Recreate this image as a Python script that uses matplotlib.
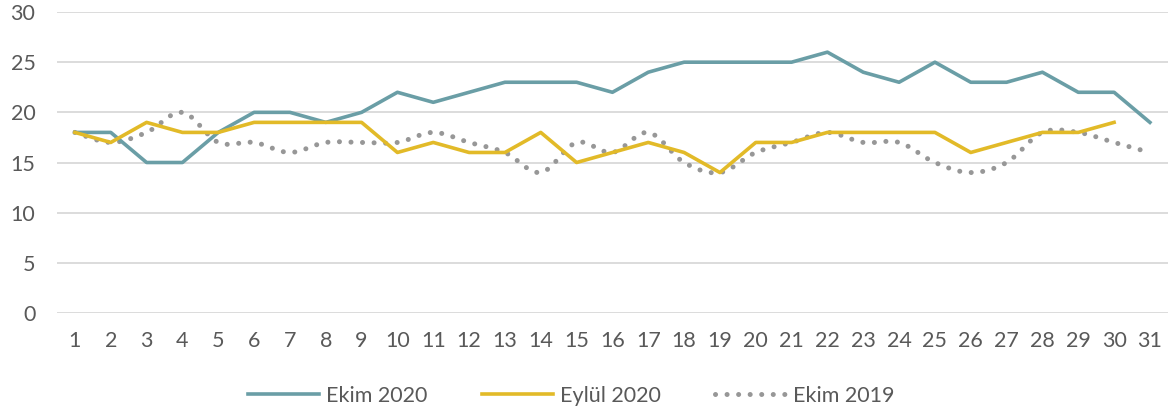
import numpy as np
import matplotlib
matplotlib.use('Agg')
import matplotlib.pyplot as plt

plt.rcParams['font.family'] = ['Lato', 'DejaVu Sans']

days = list(range(1, 32))
ekim_2020 = [18, 18, 15, 15, 18, 20, 20, 19, 20, 22, 21, 22, 23, 23, 23, 22,
             24, 25, 25, 25, 25, 26, 24, 23, 25, 23, 23, 24, 22, 22, 19]
eylul_2020 = [18, 17, 19, 18, 18, 19, 19, 19, 19, 16, 17, 16, 16, 18, 15, 16,
              17, 16, 14, 17, 17, 18, 18, 18, 18, 16, 17, 18, 18, 19]
ekim_2019 = [18, 17, 18, 20, 17, 17, 16, 17, 17, 17, 18, 17, 16, 14, 17, 16,
             18, 15, 14, 16, 17, 18, 17, 17, 15, 14, 15, 18, 18, 17, 16]
y_ticks = [0, 5, 10, 15, 20, 25, 30]


def smooth(x, y, n=12):
    """Catmull-Rom, like Excel's smoothed line"""
    x = np.asarray(x, float)
    y = np.asarray(y, float)
    px = np.concatenate([[x[0]], x, [x[-1]]])
    py = np.concatenate([[y[0]], y, [y[-1]]])
    xs, ys = [], []
    for i in range(1, len(px) - 2):
        t = np.linspace(0, 1, n, endpoint=False)
        for arr, out in ((px, xs), (py, ys)):
            p0, p1, p2, p3 = arr[i - 1], arr[i], arr[i + 1], arr[i + 2]
            out.extend(0.5 * (2 * p1 + (-p0 + p2) * t + (2 * p0 - 5 * p1 + 4 * p2 - p3) * t ** 2
                              + (-p0 + 3 * p1 - 3 * p2 + p3) * t ** 3))
    xs.append(x[-1])
    ys.append(y[-1])
    return xs, ys


fig = plt.figure(figsize=(11.73, 4.16), dpi=100)
ax = fig.add_axes([0.0486, 0.2476, 0.947, 0.7235])

c_teal = '#6A9EA6'
c_yellow = '#E2BA28'
c_grey = '#979797'
c_text = '#595959'

ax.plot(days, ekim_2020, color=c_teal, lw=2.6, label='Ekim 2020', zorder=3)
ax.plot(days[:len(eylul_2020)], eylul_2020, color=c_yellow, lw=2.6, label='Eylül 2020', zorder=4)
sx, sy = smooth(days, ekim_2019)
ax.plot(sx, sy, color=c_grey, lw=3.6, linestyle=(0, (0.01, 2.3)), dash_capstyle='round',
        label='Ekim 2019', zorder=2)

ax.set_xlim(0.5, 31.5)
ax.set_ylim(0, 30)
ax.set_yticks(y_ticks)
ax.set_xticks(days)
ax.yaxis.grid(True, color='#D9D9D9', lw=1.3)
ax.set_axisbelow(True)
for s in ax.spines.values():
    s.set_visible(False)
ax.tick_params(length=0, labelsize=15.5, colors=c_text)
ax.tick_params(axis='y', pad=15.5)
ax.tick_params(axis='x', pad=13)

ax.legend(loc='center', bbox_to_anchor=(0.463, -0.275), ncol=3, frameon=False,
          fontsize=15.5, labelcolor=c_text, handlelength=3.3, handletextpad=0.35,
          columnspacing=2.5)

fig.savefig('out.png', dpi=100)
